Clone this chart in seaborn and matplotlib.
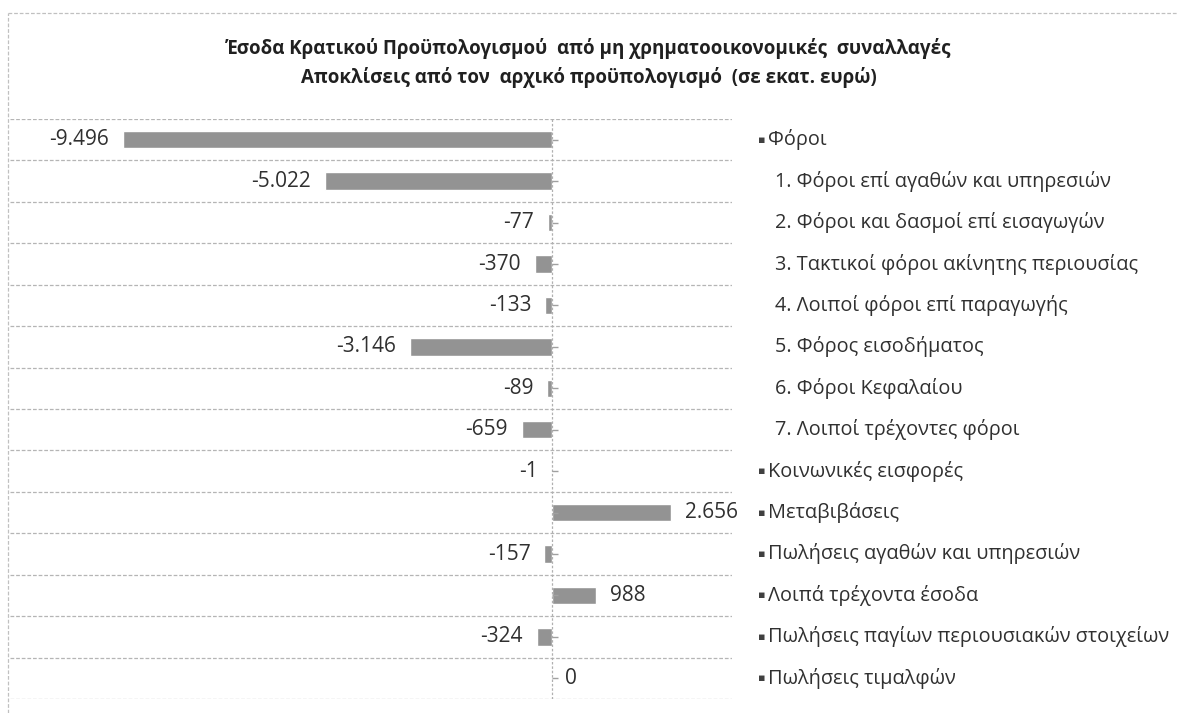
import matplotlib
matplotlib.use("Agg")
import matplotlib.pyplot as plt
import matplotlib.transforms as mtransforms
from matplotlib.lines import Line2D
import seaborn as sns
import pandas as pd

title = ("Έσοδα Κρατικού Προϋπολογισμού  από μη χρηματοοικονομικές  συναλλαγές\n"
         "Αποκλίσεις από τον  αρχικό προϋπολογισμό  (σε εκατ. ευρώ)")

categories = [
    "▪ Φόροι",
    "1. Φόροι επί αγαθών και υπηρεσιών",
    "2. Φόροι και δασμοί επί εισαγωγών",
    "3. Τακτικοί φόροι ακίνητης περιουσίας",
    "4. Λοιποί φόροι επί παραγωγής",
    "5. Φόρος εισοδήματος",
    "6. Φόροι Κεφαλαίου",
    "7. Λοιποί τρέχοντες φόροι",
    "▪ Κοινωνικές εισφορές",
    "▪ Μεταβιβάσεις",
    "▪ Πωλήσεις αγαθών και υπηρεσιών",
    "▪ Λοιπά τρέχοντα έσοδα",
    "▪ Πωλήσεις παγίων περιουσιακών στοιχείων",
    "▪ Πωλήσεις τιμαλφών",
]
values = [-9496, -5022, -77, -370, -133, -3146, -89, -659, -1, 2656, -157, 988, -324, 0]

df = pd.DataFrame({"category": categories, "value": values})

sns.set_style("white")
plt.rcParams["font.family"] = ["Open Sans", "DejaVu Sans"]

W, H = 1178, 713
fig = plt.figure(figsize=(W / 100, H / 100), dpi=100)
ax = fig.add_axes([10 / W, 1 - 699 / H, 722 / W, 580 / H])

sns.barplot(data=df, x="value", y="category", orient="h", color="#939393",
            saturation=1, width=0.42, ax=ax)

ax.set_xlim(-12000, 4000)
ax.set_ylim(len(categories) - 0.5, -0.5)
ax.set_xlabel("")
ax.set_ylabel("")
ax.set_xticks([])
ax.set_yticks([])
for s in ax.spines.values():
    s.set_visible(False)

# row separators
for b in range(len(categories) + 1):
    ax.axhline(b - 0.5, color="#b5b5b5", linestyle=(0, (3, 1.5)), linewidth=0.9, zorder=0)

# vertical zero axis with small ticks
ax.axvline(0, color="#b0b0b0", linestyle=(0, (2, 1.5)), linewidth=0.9, zorder=1)
ax.plot([0] * len(categories), range(len(categories)), linestyle="none",
        marker=1, markersize=4, color="#a0a0a0", zorder=1)

# value labels
for i, v in enumerate(values):
    txt = f"{v:,.0f}".replace(",", ".")
    if v < 0:
        ax.annotate(txt, (v, i), xytext=(-10, 0), textcoords="offset points",
                    ha="right", va="center", fontsize=15, color="#303030")
    else:
        ax.annotate(txt, (v, i), xytext=(10, 0), textcoords="offset points",
                    ha="left", va="center", fontsize=15, color="#303030")

# category labels on the right
trans = mtransforms.blended_transform_factory(ax.transAxes, ax.transData)
for i, c in enumerate(categories):
    if c.startswith("▪"):
        ax.text(1.036, i, "▪", transform=trans, ha="left", va="center",
                fontsize=8, color="#404040", family=["DejaVu Sans"])
        ax.text(1.050, i, c[2:], transform=trans, ha="left", va="center",
                fontsize=14.3, color="#303030")
    else:
        ax.text(1.0596, i, c, transform=trans, ha="left", va="center",
                fontsize=14.3, color="#303030")

fig.text(0.5, 1 - 63 / H, title, ha="center", va="center", fontsize=13.5,
         fontweight="bold", color="#202020", linespacing=1.55)

# dashed outer frame
fig.add_artist(Line2D([8 / W, 1.0], [1 - 13 / H, 1 - 13 / H], color="#c0c0c0",
                      linestyle=(0, (3, 1.5)), linewidth=0.9))
fig.add_artist(Line2D([8 / W, 8 / W], [0, 1 - 13 / H], color="#c0c0c0",
                      linestyle=(0, (3, 1.5)), linewidth=0.9))

fig.savefig("out.png", dpi=100)
